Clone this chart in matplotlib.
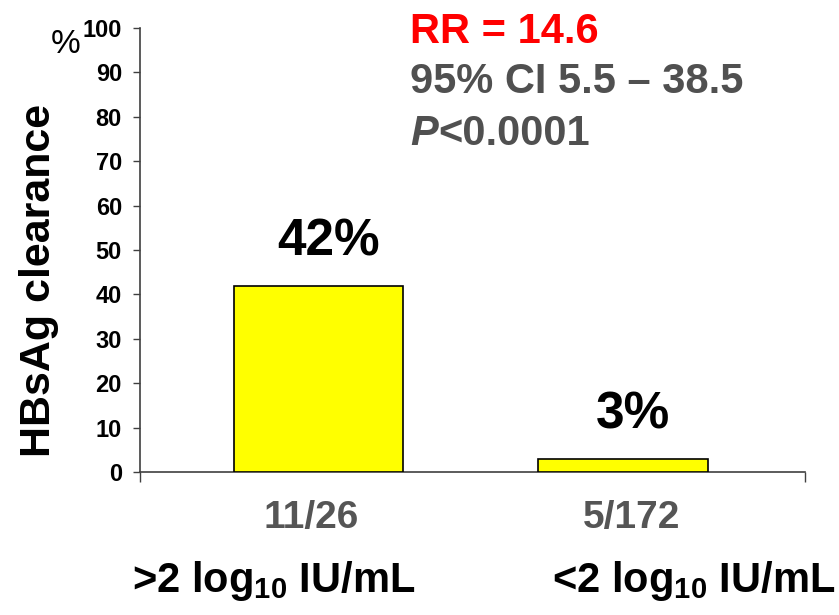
import matplotlib
matplotlib.use("Agg")
import matplotlib.pyplot as plt

# data
groups = [">2 log$_{\\mathbf{10}}$ IU/mL", "<2 log$_{\\mathbf{10}}$ IU/mL"]
counts = ["11/26", "5/172"]
clearance = [42, 3]
bar_labels = ["42%", "3%"]
yticks = [0, 10, 20, 30, 40, 50, 60, 70, 80, 90, 100]

plt.rcParams["font.family"] = ["Liberation Sans", "DejaVu Sans"]
plt.rcParams["mathtext.fontset"] = "custom"
plt.rcParams["mathtext.rm"] = "Liberation Sans:bold"
plt.rcParams["mathtext.bf"] = "Liberation Sans:bold"

GREY = "#505050"
AXC = "#404040"

fig = plt.figure(figsize=(8.39, 6.15), dpi=100)
ax = fig.add_axes([0.1669, 0.2325, 0.7926, 0.722])

x = [0, 1]
ax.bar(x, clearance, width=0.558, color="#ffff00", edgecolor="black", linewidth=1.2, zorder=3)
ax.set_xlim(-0.586, 1.598)
ax.set_ylim(0, 100)

for s in ["top", "right"]:
    ax.spines[s].set_visible(False)
for s in ["left", "bottom"]:
    ax.spines[s].set_color(AXC)
    ax.spines[s].set_linewidth(1.2)

ax.set_yticks(yticks)
ax.set_yticklabels([str(v) for v in yticks], fontsize=17, fontweight="bold")
ax.tick_params(axis="y", length=5, width=1, color=AXC, pad=8)
ax.set_xticks([-0.586, 1.598])
ax.set_xticklabels([])
ax.tick_params(axis="x", length=7.5, width=1, color=AXC)

ax.set_ylabel("HBsAg clearance", fontsize=31, fontweight="bold")
ax.yaxis.set_label_coords(-0.122, 0.432)

# percent labels above bars
for xi, v, lab in zip(x, clearance, bar_labels):
    ax.annotate(lab, xy=(xi, v), xytext=(7.5, 21.5), textcoords="offset points",
                ha="center", va="baseline", fontsize=37, fontweight="bold")

# counts under each bar
count_dx = [-5, 6.5]
for xi, c, dx in zip(x, counts, count_dx):
    ax.annotate(c, xy=(xi, 0), xycoords=("data", "axes fraction"), xytext=(dx, -40),
                textcoords="offset points", ha="center", va="baseline",
                fontsize=28, fontweight="bold", color="#555555")

fig.text(0.157, 0.0374, groups[0], ha="left", va="baseline", fontsize=30, fontweight="bold")
fig.text(0.996, 0.0374, groups[1], ha="right", va="baseline", fontsize=30, fontweight="bold")

fig.text(0.061, 0.914, "%", fontsize=24, ha="left", va="baseline")

fig.text(0.4887, 0.930, "RR = 14.6", color="red", fontsize=30, fontweight="bold", va="baseline")
fig.text(0.4887, 0.849, "95% CI 5.5 \u2013 38.5", color=GREY, fontsize=30, fontweight="bold", va="baseline")
p = fig.text(0.4887, 0.764, "P", color=GREY, fontsize=30, fontweight="bold", style="italic", va="baseline")
fig.canvas.draw()
ax.annotate("<0.0001", xy=(1, 0), xycoords=p, xytext=(0, 0), textcoords="offset points",
            ha="left", va="bottom", color=GREY, fontsize=30, fontweight="bold")

fig.savefig("out.png", dpi=100)
